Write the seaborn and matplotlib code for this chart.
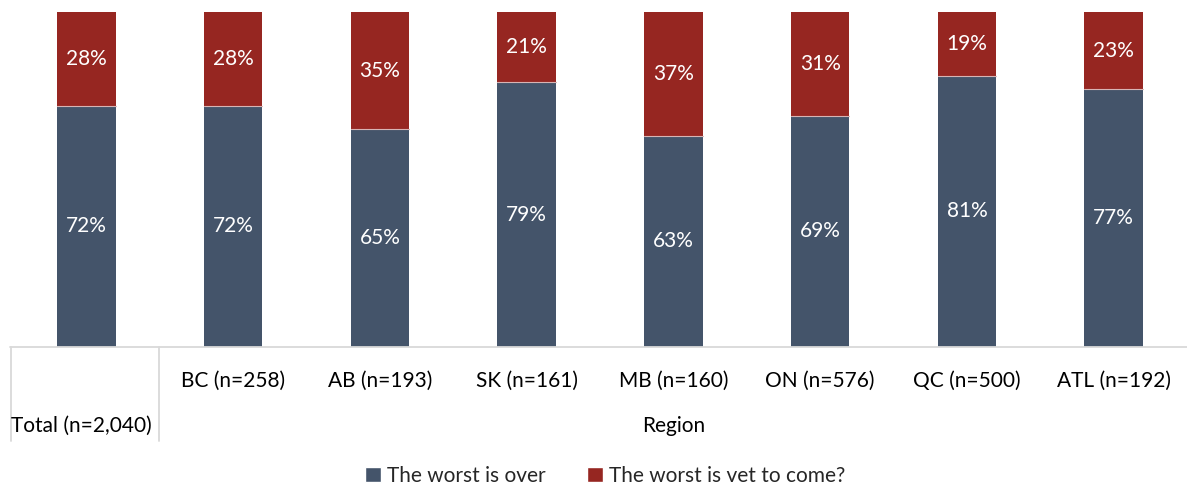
import matplotlib.pyplot as plt
import seaborn as sns
import pandas as pd
from matplotlib.patches import Patch

categories = ['Total (n=2,040)', 'BC (n=258)', 'AB (n=193)', 'SK (n=161)',
              'MB (n=160)', 'ON (n=576)', 'QC (n=500)', 'ATL (n=192)']
worst_over = [72, 72, 65, 79, 63, 69, 81, 77]
yet_to_come = [28, 28, 35, 21, 37, 31, 19, 23]

blue = '#44546A'
red = '#962621'
grid_grey = '#D9D9D9'

df = pd.DataFrame({'cat': categories, 'over': worst_over, 'come': yet_to_come})
df['total'] = df['over'] + df['come']

sns.set_theme(style='white')
plt.rcParams['font.family'] = ['Lato', 'DejaVu Sans']
fs = 15

fig = plt.figure(figsize=(11.87, 4.84), dpi=100)
ax = fig.add_axes([13 / 1187, 1 - 347 / 484, 1174 / 1187, 335 / 484])

# stacked: full height in red first, then the lower blue part on top
sns.barplot(data=df, x='cat', y='total', color=red, width=0.4, saturation=1,
            linewidth=0, ax=ax)
sns.barplot(data=df, x='cat', y='over', color=blue, width=0.4, saturation=1,
            linewidth=0, ax=ax)

for i, row in df.iterrows():
    # thin light separator between the two segments
    ax.plot([i - 0.2, i + 0.2], [row['over'], row['over']], color='#D8B4B4', lw=0.8)
    ax.text(i, row['over'] / 2, f"{row['over']}%", ha='center', va='center',
            color='white', fontsize=fs)
    ax.text(i, row['over'] + row['come'] / 2, f"{row['come']}%", ha='center',
            va='center', color='white', fontsize=fs)

ax.set_ylim(0, 100)
ax.set_xlim(-0.5, len(categories) - 0.5)
ax.set_yticks([])
ax.set_xticks([])
ax.set_xlabel('')
ax.set_ylabel('')
for s in ax.spines.values():
    s.set_visible(False)

# multi-level category axis (Excel style)
ax.plot([-0.52, len(categories) - 0.5], [0, 0], color=grid_grey, lw=1.3, clip_on=False)
for xv in [-0.515, 0.495]:
    ax.plot([xv, xv], [0, -28], color=grid_grey, lw=1.3, clip_on=False)

for i, c in enumerate(categories[1:], start=1):
    ax.text(i, -10, c, ha='center', va='center', fontsize=fs, color='black')
ax.text(-0.515, -23.5, categories[0], ha='left', va='center', fontsize=fs, color='black')
ax.text((1 + len(categories) - 1) / 2, -23.5, 'Region', ha='center', va='center',
        fontsize=fs, color='black')

handles = [Patch(facecolor=blue, label='The worst is over'),
           Patch(facecolor=red, label='The worst is vet to come?')]
fig.legend(handles=handles, loc='center', bbox_to_anchor=(0.51, 0.017), ncol=2,
           frameon=False, fontsize=fs, handlelength=0.75, handleheight=0.75,
           handletextpad=0.3, columnspacing=2.0)

fig.savefig('out.png', dpi=100)
